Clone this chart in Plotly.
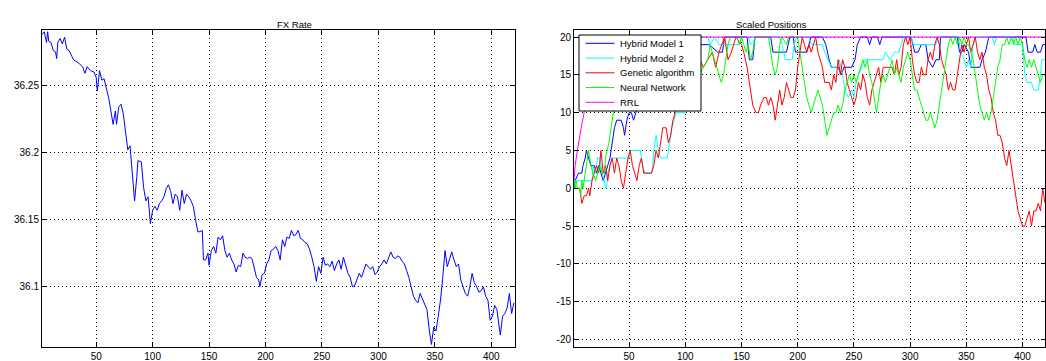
import plotly.graph_objects as go

W, H = 1046, 361

# ---------------- data: FX rate ----------------
fx_x = [2, 4, 6, 7, 8, 10, 12, 14, 15, 16, 18, 20, 22, 24, 26, 28, 30, 34, 38, 40,
        42, 45, 48, 50, 51, 53, 55, 57, 59, 61, 63, 65, 67, 68, 70, 72, 74, 76, 78, 80,
        82, 84, 86, 87, 90, 92, 94, 96, 98, 100, 102, 104, 106, 108, 110, 112, 114, 116, 118, 120,
        122, 124, 126, 128, 130, 132, 134, 136, 138, 140, 142, 144, 145, 147, 149, 150, 152, 154, 156, 158,
        160, 162, 164, 166, 168, 170, 172, 174, 176, 178, 180, 182, 184, 186, 188, 190, 192, 194, 195, 197,
        199, 201, 203, 205, 207, 209, 211, 213, 215, 217, 219, 221, 223, 225, 227, 229, 231, 233, 235, 237,
        239, 241, 243, 245, 247, 249, 251, 253, 255, 257, 259, 261, 263, 265, 267, 269, 271, 273, 275, 277,
        279, 281, 283, 285, 287, 289, 291, 293, 295, 297, 299, 301, 303, 305, 307, 309, 311, 313, 315, 317,
        319, 321, 323, 325, 327, 329, 331, 333, 335, 337, 339, 341, 343, 345, 347, 349, 351, 353, 355, 357,
        359, 361, 363, 365, 367, 369, 371, 373, 375, 377, 379, 381, 383, 385, 387, 389, 391, 393, 395, 397,
        399, 401, 403, 405, 407, 408, 410, 412, 414, 416, 418, 420]
fx_rate = [36.288, 36.290, 36.282, 36.290, 36.283, 36.282, 36.276, 36.275, 36.270, 36.282, 36.285, 36.281, 36.286, 36.277, 36.276, 36.273, 36.269, 36.267, 36.264, 36.259,
           36.264, 36.261, 36.260, 36.256, 36.246, 36.261, 36.254, 36.255, 36.248, 36.241, 36.231, 36.221, 36.231, 36.221, 36.234, 36.236, 36.229, 36.214, 36.202, 36.205,
           36.182, 36.164, 36.182, 36.194, 36.193, 36.174, 36.164, 36.167, 36.147, 36.157, 36.160, 36.157, 36.162, 36.164, 36.167, 36.173, 36.176, 36.171, 36.162, 36.169,
           36.167, 36.157, 36.172, 36.162, 36.169, 36.167, 36.164, 36.160, 36.150, 36.141, 36.141, 36.142, 36.120, 36.120, 36.125, 36.116, 36.127, 36.130, 36.125, 36.137,
           36.135, 36.138, 36.127, 36.122, 36.125, 36.120, 36.117, 36.111, 36.116, 36.115, 36.125, 36.122, 36.121, 36.122, 36.121, 36.115, 36.107, 36.105, 36.100, 36.109,
           36.110, 36.117, 36.120, 36.127, 36.128, 36.130, 36.127, 36.120, 36.135, 36.130, 36.137, 36.136, 36.142, 36.138, 36.139, 36.142, 36.136, 36.135, 36.133, 36.132,
           36.128, 36.122, 36.115, 36.104, 36.115, 36.110, 36.122, 36.116, 36.117, 36.115, 36.119, 36.112, 36.117, 36.120, 36.113, 36.122, 36.115, 36.110, 36.107, 36.100,
           36.101, 36.105, 36.110, 36.107, 36.112, 36.117, 36.115, 36.113, 36.115, 36.109, 36.111, 36.115, 36.117, 36.120, 36.117, 36.122, 36.126, 36.122, 36.121, 36.123,
           36.122, 36.119, 36.117, 36.112, 36.107, 36.100, 36.093, 36.090, 36.088, 36.095, 36.091, 36.088, 36.083, 36.068, 36.057, 36.070, 36.067, 36.078, 36.090, 36.107,
           36.127, 36.115, 36.120, 36.126, 36.120, 36.115, 36.117, 36.105, 36.100, 36.095, 36.093, 36.100, 36.110, 36.103, 36.100, 36.096, 36.097, 36.100, 36.093, 36.090,
           36.075, 36.078, 36.086, 36.083, 36.070, 36.064, 36.078, 36.080, 36.084, 36.095, 36.080, 36.088]

fx_yticks = [36.1, 36.15, 36.2, 36.25]
fx_yticklabels = ["36.1", "36.15", "36.2", "36.25"]

# ---------------- data: scaled positions ----------------
hm1_x = [1, 2, 5, 8, 9, 11, 12, 14, 16, 19, 21, 23, 25, 27, 29, 31, 33, 35, 37, 39,
         43, 45, 46, 48, 50, 52, 54, 56, 60, 65, 70, 75, 110, 112, 121, 129, 133, 135, 155, 157,
         160, 162, 176, 178, 190, 193, 196, 198, 208, 210, 212, 222, 225, 228, 230, 236, 239, 241, 248, 251,
         253, 256, 262, 264, 266, 271, 273, 275, 301, 304, 307, 310, 314, 316, 320, 323, 326, 327, 342, 344,
         346, 348, 352, 354, 362, 364, 367, 370, 403, 405, 409, 411, 413, 416, 418, 420]
hm1_pos = [0, 1, 2, 2, 3, 4, 5, 4, 3, 3, 2, 3, 2, 1, 2, 3, 4, 6, 8, 9,
           9, 8, 7, 9, 10, 10, 9, 10, 12, 15, 18, 20, 20, 19, 19, 18, 18, 20, 20, 17,
           17, 20, 20, 18, 18, 20, 20, 18, 18, 19, 20, 20, 19, 17, 16, 16, 15, 16, 16, 17,
           19, 20, 20, 19, 20, 20, 19, 20, 20, 18, 18, 19, 19, 17, 16, 17, 17, 20, 20, 18,
           18, 19, 18, 16, 16, 17, 18, 20, 20, 18, 18, 19, 18, 18, 19, 19]

hm2_x = [1, 17, 18, 20, 22, 24, 26, 28, 29, 30, 31, 33, 35, 50, 51, 60, 62, 64, 70, 71,
         72, 74, 76, 78, 84, 86, 88, 90, 92, 100, 104, 108, 112, 120, 122, 126, 130, 148, 150, 156,
         158, 163, 184, 186, 189, 195, 197, 199, 210, 212, 222, 224, 227, 230, 235, 237, 240, 242, 245, 248,
         250, 252, 254, 257, 260, 276, 278, 282, 286, 290, 292, 294, 301, 303, 323, 325, 343, 345, 348, 350,
         352, 354, 356, 358, 373, 375, 377, 391, 393, 400, 402, 404, 408, 410, 414, 416, 417, 420]
hm2_pos = [1, 1, 3, 2, 4, 4, 2, 1, 0, 0, 2, 3, 4, 4, 5, 5, 3, 2, 2, 3,
           5, 7, 5, 4, 4, 6, 8, 9, 10, 10, 13, 17, 20, 20, 19, 20, 19, 19, 20, 20,
           19, 20, 20, 19, 17, 17, 19, 20, 20, 19, 19, 18, 17, 16, 16, 17, 15, 13, 12, 13,
           12, 14, 15, 16, 17, 17, 18, 17, 18, 18, 19, 20, 20, 19, 19, 20, 20, 18, 17, 16,
           17, 16, 19, 20, 20, 19, 20, 20, 19, 19, 15, 14, 14, 13, 13, 15, 17, 17]

ga_x = [1, 6, 8, 10, 12, 14, 15, 17, 19, 21, 23, 25, 27, 29, 31, 33, 35, 37, 39, 41,
        43, 45, 47, 49, 51, 53, 55, 57, 59, 61, 63, 65, 70, 72, 74, 76, 78, 80, 83, 85,
        87, 89, 91, 95, 100, 105, 110, 113, 116, 120, 124, 127, 130, 135, 138, 141, 145, 150, 152, 155,
        158, 160, 163, 165, 167, 170, 172, 174, 176, 178, 180, 182, 184, 186, 188, 190, 192, 194, 196, 198,
        200, 202, 204, 206, 208, 210, 212, 214, 216, 218, 220, 222, 224, 226, 228, 230, 232, 234, 236, 238,
        240, 242, 244, 246, 248, 250, 252, 254, 256, 258, 260, 262, 264, 266, 268, 270, 272, 274, 276, 280,
        284, 286, 288, 290, 292, 294, 296, 298, 300, 302, 304, 306, 308, 310, 312, 314, 316, 318, 320, 322,
        324, 326, 328, 330, 332, 334, 336, 338, 340, 342, 344, 346, 348, 350, 352, 354, 356, 358, 360, 362,
        364, 366, 368, 370, 372, 374, 376, 378, 380, 382, 384, 386, 388, 390, 392, 394, 396, 398, 400, 402,
        404, 406, 408, 410, 412, 414, 416, 418, 420]
ga_pos = [0, 0, -2, -1, -1, 0, -1, 1, 2, 3, 2, 5, 2, 3, 1, 3, 4, 2, 4, 3,
          1, 0, 2, 4, 5, 3, 2, 1, 3, 4, 2, 2, 2, 3, 5, 4, 6, 8, 8, 6,
          7, 9, 10, 13, 15, 17, 18, 17, 16, 17, 18, 16, 18, 20, 17, 18, 20, 19, 18, 16,
          13, 11, 10, 10, 11, 12, 12, 11, 12, 11, 9, 11, 13, 11, 12, 14, 13, 12, 12, 13,
          16, 18, 20, 19, 18, 19, 18, 19, 20, 18, 17, 16, 14, 14, 14, 13, 15, 14, 17, 15,
          17, 16, 14, 13, 12, 11, 12, 14, 13, 15, 14, 12, 11, 13, 14, 15, 16, 14, 16, 16,
          16, 15, 17, 15, 16, 19, 20, 19, 20, 17, 15, 14, 14, 16, 15, 15, 17, 18, 17, 19,
          20, 19, 17, 16, 15, 13, 14, 13, 13, 15, 17, 19, 18, 19, 20, 18, 19, 20, 18, 17,
          18, 16, 15, 13, 12, 10, 9, 7, 7, 6, 4, 3, 5, 3, 1, -1, -3, -4, -5, -5,
          -4, -3, -5, -3, -3, -2, -3, 0, -2]

nn_x = [1, 2, 3, 4, 6, 7, 8, 9, 11, 13, 14, 16, 18, 20, 22, 24, 26, 28, 29, 32,
        34, 36, 40, 45, 50, 55, 105, 110, 113, 116, 120, 122, 124, 126, 128, 130, 132, 134, 136, 138,
        140, 146, 148, 150, 152, 154, 156, 158, 160, 162, 174, 176, 178, 180, 182, 184, 186, 190, 192, 200,
        202, 204, 206, 208, 210, 212, 214, 216, 218, 220, 222, 224, 226, 228, 230, 232, 234, 236, 238, 240,
        242, 244, 246, 248, 250, 252, 254, 256, 258, 260, 262, 264, 266, 268, 270, 272, 274, 276, 278, 280,
        282, 284, 286, 288, 290, 292, 294, 296, 298, 300, 302, 304, 306, 308, 310, 312, 314, 316, 318, 320,
        322, 324, 326, 328, 330, 332, 334, 336, 338, 340, 342, 344, 346, 348, 350, 352, 354, 356, 358, 360,
        362, 364, 366, 368, 370, 372, 374, 376, 378, 380, 382, 384, 386, 388, 390, 392, 394, 396, 398, 400,
        402, 404, 406, 408, 410, 412, 414, 416, 418, 420]
nn_pos = [1, 0, 1, 0, 0, -1, 1, 0, 2, 4, 5, 3, 2, 1, 2, 3, 2, 2, 4, 6,
          8, 10, 13, 16, 18, 20, 20, 17, 15, 16, 17, 19, 18, 17, 16, 15, 14, 15, 17, 19,
          20, 20, 19, 20, 19, 18, 19, 17, 18, 20, 20, 18, 16, 15, 16, 19, 20, 19, 20, 20,
          18, 16, 14, 12, 11, 10, 11, 12, 13, 12, 11, 9, 7, 8, 9, 10, 10, 11, 10, 11,
          13, 14, 15, 14, 15, 14, 15, 16, 17, 16, 17, 15, 14, 12, 10, 12, 14, 15, 14, 15,
          16, 17, 15, 16, 15, 14, 16, 17, 18, 17, 15, 13, 13, 12, 11, 10, 9, 9, 10, 9,
          8, 9, 11, 13, 15, 17, 19, 20, 19, 20, 19, 20, 19, 20, 19, 19, 18, 17, 15, 13,
          11, 10, 9, 10, 9, 10, 12, 14, 16, 17, 19, 19, 20, 19, 20, 19, 20, 19, 20, 19,
          17, 16, 17, 16, 17, 16, 15, 14, 15, 15]

rrl_x = [1, 2, 4, 6, 8, 10, 12, 14, 16, 18, 20, 420]
rrl_pos = [1, 3, 5, 7, 8.5, 10, 12, 14, 16, 18, 20, 20]

pos_yticks = [-20, -15, -10, -5, 0, 5, 10, 15, 20]
pos_yticklabels = ["-20", "-15", "-10", "-5", "0", "5", "10", "15", "20"]
x_ticks = [50, 100, 150, 200, 250, 300, 350, 400]

series_names = ["Hybrid Model 1", "Hybrid Model 2", "Genetic algorithm", "Neural Network", "RRL"]
series_x = [hm1_x, hm2_x, ga_x, nn_x, rrl_x]
series_y = [hm1_pos, hm2_pos, ga_pos, nn_pos, rrl_pos]
series_colors = ["#0000ff", "#00ffff", "#ff0000", "#00ff00", "#ff00ff"]

FONT = "Liberation Sans, Arial, sans-serif"

fig = go.Figure()
fig.add_trace(go.Scatter(x=fx_x, y=fx_rate, mode="lines", line=dict(color="#0000ff", width=1),
                         showlegend=False, xaxis="x", yaxis="y"))
for nm, xs, ys, c in zip(series_names, series_x, series_y, series_colors):
    fig.add_trace(go.Scatter(x=xs, y=ys, mode="lines", name=nm, line=dict(color=c, width=1),
                             showlegend=False, xaxis="x2", yaxis="y2"))

ydom = [(H - 347) / H, (H - 29.5) / H]
common = dict(showline=True, linecolor="black", linewidth=1, mirror="ticks",
              ticks="inside", ticklen=4, tickcolor="black", showgrid=True,
              gridcolor="black", gridwidth=1, griddash="1px,3px", zeroline=False,
              tickfont=dict(family=FONT, size=10, color="black"), automargin=False)

fig.update_layout(
    width=W, height=H,
    margin=dict(l=0, r=0, t=0, b=0),
    paper_bgcolor="white", plot_bgcolor="white",
    font=dict(family=FONT, size=10, color="black"),
    xaxis=dict(domain=[42 / W, 515 / W], range=[2, 421], tickvals=x_ticks, anchor="y", **common),
    yaxis=dict(domain=ydom, range=[36.0551, 36.2917], tickvals=fx_yticks, ticktext=fx_yticklabels,
               anchor="x", **common),
    xaxis2=dict(domain=[574 / W, 1045 / W], range=[1, 420], tickvals=x_ticks, anchor="y2", **common),
    yaxis2=dict(domain=ydom, range=[-21, 21], tickvals=pos_yticks, ticktext=pos_yticklabels,
                anchor="x2", **common),
)

# titles
fig.add_annotation(text="FX Rate", x=275 / W, y=(H - 17) / H, xref="paper", yref="paper",
                   showarrow=False, font=dict(family=FONT, size=9.5, color="black"))
fig.add_annotation(text="Scaled Positions", x=808 / W, y=(H - 17.5) / H, xref="paper", yref="paper",
                   showarrow=False, font=dict(family=FONT, size=9.5, color="black"))

# legend box (drawn from the series names / colors)
lx0, lx1, ly0, ly1 = 579, 701, 35, 111
fig.add_shape(type="rect", xref="paper", yref="paper", x0=lx0 / W, x1=lx1 / W,
              y0=(H - ly1) / H, y1=(H - ly0) / H, line=dict(color="black", width=1),
              fillcolor="white", layer="above")
for i, (nm, c) in enumerate(zip(series_names, series_colors)):
    yy = 43.3 + 14.75 * i
    fig.add_shape(type="line", xref="paper", yref="paper", x0=585.5 / W, x1=614.5 / W,
                  y0=(H - yy) / H, y1=(H - yy) / H, line=dict(color=c, width=1), layer="above")
    fig.add_annotation(text=nm, x=617.5 / W, y=(H - yy) / H, xref="paper", yref="paper",
                       xanchor="left", yanchor="middle", showarrow=False,
                       font=dict(family=FONT, size=9.5, color="black"))

fig.write_html("out.html", config={"displayModeBar": False},
               post_script="document.body.style.margin='0px';document.body.style.overflow='hidden';")
